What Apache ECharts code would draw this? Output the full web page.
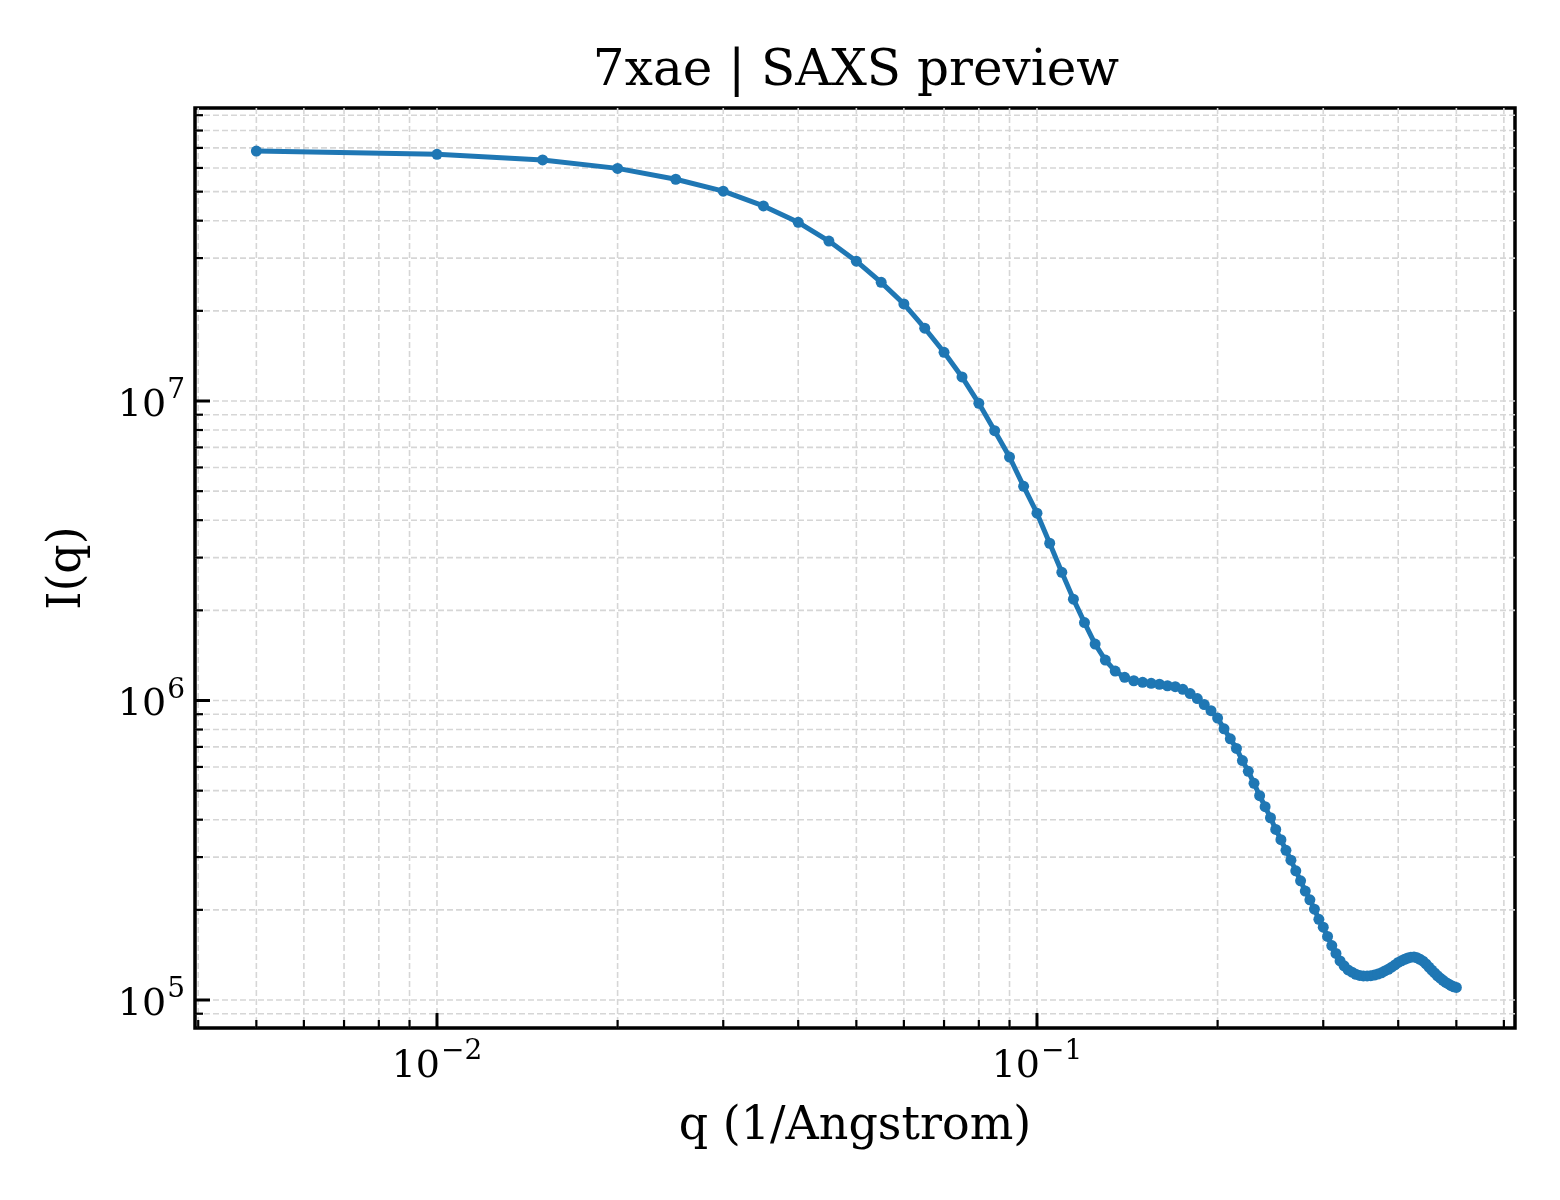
<!DOCTYPE html>
<html>
<head>
<meta charset="utf-8">
<script src="https://cdn.jsdelivr.net/npm/echarts@6/dist/echarts.min.js"></script>
<style>
html,body{margin:0;padding:0;background:#fff;}
#chart{width:1560px;height:1200px;}
</style>
</head>
<body>
<div id="chart"></div>
<script>
// ---- data ----
const qValues = [
  0.005,0.010,0.015,0.020,0.025,0.030,0.035,0.040,0.045,0.050,
  0.055,0.060,0.065,0.070,0.075,0.080,0.085,0.090,0.095,0.100,
  0.105,0.110,0.115,0.120,0.125,0.130,0.135,0.140,0.145,0.150,
  0.155,0.160,0.165,0.170,0.175,0.180,0.185,0.190,0.195,0.200,
  0.205,0.210,0.215,0.220,0.225,0.230,0.235,0.240,0.245,0.250,
  0.255,0.260,0.265,0.270,0.275,0.280,0.285,0.290,0.295,0.300,
  0.305,0.310,0.315,0.320,0.325,0.330,0.335,0.340,0.345,0.350,
  0.355,0.360,0.365,0.370,0.375,0.380,0.385,0.390,0.395,0.400,
  0.405,0.410,0.415,0.420,0.425,0.430,0.435,0.440,0.445,0.450,
  0.455,0.460,0.465,0.470,0.475,0.480,0.485,0.490,0.495,0.500
];
const intensity = [
  6.83e7,6.66e7,6.38e7,5.98e7,5.50e7,5.02e7,4.48e7,3.95e7,3.42e7,2.93e7,
  2.49e7,2.11e7,1.75e7,1.454e7,1.203e7,9.82e6,7.96e6,6.50e6,5.19e6,4.22e6,
  3.35e6,2.68e6,2.18e6,1.82e6,1.543e6,1.365e6,1.254e6,1.195e6,1.164e6,1.150e6,
  1.141e6,1.133e6,1.120e6,1.112e6,1.090e6,1.055e6,1.015e6,9.69e5,9.25e5,8.74e5,
  8.04e5,7.45e5,6.92e5,6.30e5,5.80e5,5.29e5,4.81e5,4.42e5,4.06e5,3.71e5,
  3.43e5,3.16e5,2.93e5,2.70e5,2.50e5,2.31e5,2.16e5,2.01e5,1.86e5,1.75e5,
  1.63e5,1.52e5,1.43e5,1.35e5,1.30e5,1.26e5,1.238e5,1.218e5,1.208e5,1.203e5,
  1.203e5,1.206e5,1.211e5,1.221e5,1.232e5,1.250e5,1.266e5,1.287e5,1.309e5,1.335e5,
  1.352e5,1.368e5,1.381e5,1.390e5,1.393e5,1.383e5,1.367e5,1.348e5,1.320e5,1.288e5,
  1.259e5,1.231e5,1.205e5,1.183e5,1.163e5,1.145e5,1.131e5,1.118e5,1.107e5,1.101e5
];
const xMajorTicks = [0.01, 0.1];
const xMinorTicks = [0.004,0.005,0.006,0.007,0.008,0.009,
                     0.02,0.03,0.04,0.05,0.06,0.07,0.08,0.09,
                     0.2,0.3,0.4,0.5,0.6];
const yMajorTicks = [1e5, 1e6, 1e7];
const yMinorTicks = [9e4,
                     2e5,3e5,4e5,5e5,6e5,7e5,8e5,9e5,
                     2e6,3e6,4e6,5e6,6e6,7e6,8e6,9e6,
                     2e7,3e7,4e7,5e7,6e7,7e7,8e7,9e7];
const titleText = '7xae | SAXS preview';
const xName = 'q (1/Angstrom)';
const yName = 'I(q)';

// ---- axis extents (log10) ----
const X_MIN = Math.pow(10, -2.4033);
const X_MAX = Math.pow(10, -0.2033);
const Y_MIN = Math.pow(10, 4.9065);
const Y_MAX = Math.pow(10, 7.9783);

const FONT = 'DejaVu Serif';
const GRID_COLOR = '#d6d6d6';

const chart = echarts.init(document.getElementById('chart'), null, {renderer: 'canvas'});

function supLabel(v) {
  const lv = Math.log10(v);
  const e = Math.round(lv);
  if (Math.abs(lv - e) > 1e-6) return '';
  const s = e < 0 ? '\u2212' + (-e) : String(e);
  return '{b|10}{s|' + s + '}';
}
const richLabel = {
  b: {fontFamily: FONT, fontSize: 38, color: '#000', lineHeight: 48, verticalAlign: 'bottom'},
  s: {fontFamily: FONT, fontSize: 28, color: '#000', verticalAlign: 'top', padding: [0, 0, 0, 1]}
};

const xGridData = xMajorTicks.concat(xMinorTicks).map(v => [v, Y_MIN]);
const yGridData = yMajorTicks.concat(yMinorTicks).map(v => [X_MIN, v]);
const xTickData = xMajorTicks.map(v => [v, Y_MIN, 1]).concat(xMinorTicks.map(v => [v, Y_MIN, 0]));
const yTickData = yMajorTicks.map(v => [X_MIN, v, 1]).concat(yMinorTicks.map(v => [X_MIN, v, 0]));

function inRect(val, a, b) { return val >= Math.min(a, b) - 0.5 && val <= Math.max(a, b) + 0.5; }

const option = {
  animation: false,
  backgroundColor: '#fff',
  graphic: [{
    type: 'text',
    x: 856, y: 47,
    style: {text: titleText, font: '50px "DejaVu Serif"', fill: '#000', align: 'center', verticalAlign: 'top'}
  }],
  grid: {left: 195, top: 108, right: 45, bottom: 172, show: true, borderColor: '#000', borderWidth: 3.5, backgroundColor: 'transparent'},
  xAxis: {
    type: 'log', logBase: 10, min: X_MIN, max: X_MAX,
    name: xName, nameLocation: 'middle', nameGap: 76,
    nameTextStyle: {fontFamily: FONT, fontSize: 46, color: '#000'},
    axisLine: {show: false},
    axisTick: {show: false},
    splitLine: {show: false},
    minorTick: {show: false}, minorSplitLine: {show: false},
    axisLabel: {customValues: xMajorTicks, formatter: supLabel, rich: richLabel, margin: 10, fontFamily: FONT, fontSize: 38, color: '#000'}
  },
  yAxis: {
    type: 'log', logBase: 10, min: Y_MIN, max: Y_MAX,
    name: yName, nameLocation: 'middle', nameGap: 104, nameRotate: 90,
    nameTextStyle: {fontFamily: FONT, fontSize: 46, color: '#000'},
    axisLine: {show: false},
    axisTick: {show: false},
    splitLine: {show: false},
    minorTick: {show: false}, minorSplitLine: {show: false},
    axisLabel: {customValues: yMajorTicks, formatter: supLabel, rich: richLabel, margin: 10, fontFamily: FONT, fontSize: 38, color: '#000'}
  },
  series: [
    {
      type: 'custom', name: 'xgrid', z: 1, silent: true, data: xGridData,
      renderItem: function (params, api) {
        const cs = params.coordSys;
        const x = api.coord([api.value(0), api.value(1)])[0];
        if (!inRect(x, cs.x, cs.x + cs.width)) return;
        return {type: 'line', shape: {x1: x, y1: cs.y, x2: x, y2: cs.y + cs.height},
          style: {stroke: GRID_COLOR, lineWidth: 1.6, lineDash: [6, 3]}};
      }
    },
    {
      type: 'custom', name: 'ygrid', z: 1, silent: true, data: yGridData,
      renderItem: function (params, api) {
        const cs = params.coordSys;
        const y = api.coord([api.value(0), api.value(1)])[1];
        if (!inRect(y, cs.y, cs.y + cs.height)) return;
        return {type: 'line', shape: {x1: cs.x, y1: y, x2: cs.x + cs.width, y2: y},
          style: {stroke: GRID_COLOR, lineWidth: 1.6, lineDash: [6, 3]}};
      }
    },
    {
      type: 'custom', name: 'xticks', z: 5, silent: true, data: xTickData,
      renderItem: function (params, api) {
        const cs = params.coordSys;
        const x = api.coord([api.value(0), api.value(1)])[0];
        const major = api.value(2) === 1;
        const len = major ? 15 : 8;
        const yb = cs.y + cs.height;
        return {type: 'line', shape: {x1: x, y1: yb, x2: x, y2: yb - len},
          style: {stroke: '#000', lineWidth: major ? 3 : 2.2}};
      }
    },
    {
      type: 'custom', name: 'yticks', z: 5, silent: true, data: yTickData,
      renderItem: function (params, api) {
        const cs = params.coordSys;
        const y = api.coord([api.value(0), api.value(1)])[1];
        const major = api.value(2) === 1;
        const len = major ? 15 : 8;
        return {type: 'line', shape: {x1: cs.x, y1: y, x2: cs.x + len, y2: y},
          style: {stroke: '#000', lineWidth: major ? 3 : 2.2}};
      }
    },
    {
      type: 'line', name: 'I(q)', z: 3,
      data: qValues.map((q, i) => [q, intensity[i]]),
      showSymbol: true, symbol: 'circle', symbolSize: 11,
      lineStyle: {color: '#1f77b4', width: 5},
      itemStyle: {color: '#1f77b4'},
      clip: false
    }
  ]
};
chart.setOption(option);
</script>
</body>
</html>
